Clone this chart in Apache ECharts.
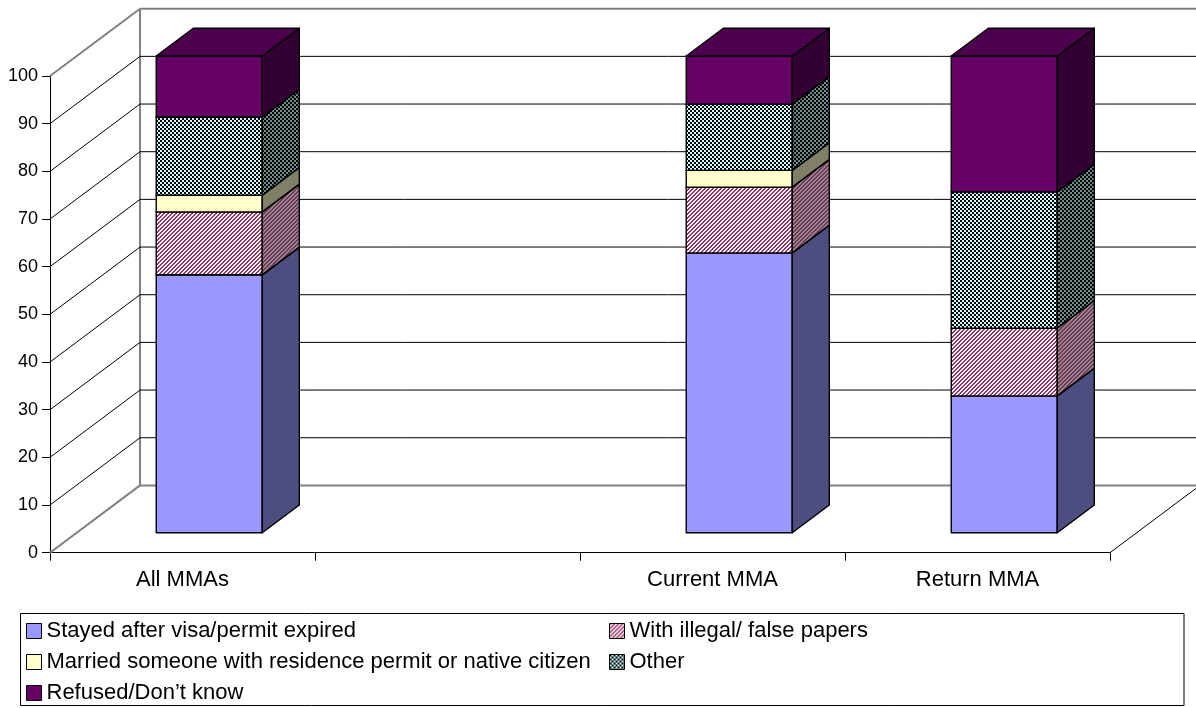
<!DOCTYPE html>
<html>
<head>
<meta charset="utf-8">
<script src="https://cdn.jsdelivr.net/npm/echarts@6/dist/echarts.min.js"></script>
<style>
  html, body { margin: 0; padding: 0; background: #fff; }
  #chart { width: 1196px; height: 708px; }
</style>
</head>
<body>
<div id="chart"></div>
<script>
// Reasons for irregular status, percent of respondents per group
const categories = ['All MMAs', '', 'Current MMA', 'Return MMA'];
const seriesNames = [
  'Stayed after visa/permit expired',
  'With illegal/ false papers',
  'Married someone with residence permit or native citizen',
  'Other',
  'Refused/Don\u2019t know'
];
const stayedAfterExpiry = [54.1, null, 58.7, 28.7];
const illegalPapers     = [13.2, null, 13.8, 14.2];
const marriedResident   = [3.5,  null, 3.5,  0];
const otherReason       = [16.4, null, 13.9, 28.6];
const refusedDontKnow   = [12.8, null, 10.1, 28.5];
const yTicks = [0, 10, 20, 30, 40, 50, 60, 70, 80, 90, 100];

// 3D projection: full floor depth and where the bars sit inside it
const DX = 90, DY = 67.3;
const FRONT_DEPTH = 0.297, BACK_DEPTH = 0.709;
const BAR_RATIO = 0.4;
const FONT = '"Liberation Sans", Arial, sans-serif';

function stripePattern(bg, fg) {
  const c = document.createElement('canvas');
  c.width = 4; c.height = 4;
  const g = c.getContext('2d');
  g.fillStyle = bg; g.fillRect(0, 0, 4, 4);
  g.fillStyle = fg;
  for (let x = 0; x < 4; x++) {
    for (let y = 0; y < 4; y++) {
      if ((x + y) % 4 < 2) g.fillRect(x, y, 1, 1);
    }
  }
  return { image: c, repeat: 'repeat' };
}
function checkerPattern(bg, fg) {
  const c = document.createElement('canvas');
  c.width = 4; c.height = 4;
  const g = c.getContext('2d');
  g.fillStyle = bg; g.fillRect(0, 0, 4, 4);
  g.fillStyle = fg;
  g.fillRect(0, 0, 2, 2); g.fillRect(2, 2, 2, 2);
  return { image: c, repeat: 'repeat' };
}

const faceStyles = [
  { front: '#9999FF', side: '#4D4D80', top: '#7373BF' },
  { front: stripePattern('#FFFFFF', '#993366'), side: stripePattern('#8E8A8D', '#7A3358'), top: stripePattern('#BFBFBF', '#732650') },
  { front: '#FFFFCC', side: '#808066', top: '#BFBF99' },
  { front: checkerPattern('#CCFFFF', '#000000'), side: checkerPattern('#6B8C8C', '#000000'), top: checkerPattern('#99BFBF', '#000000') },
  { front: '#660066', side: '#330033', top: '#4D004D' }
];

// cumulative stacking -> [categoryIndex, base, top]
const layers = [stayedAfterExpiry, illegalPapers, marriedResident, otherReason, refusedDontKnow];
const running = categories.map(() => 0);
const stackedData = layers.map(vals => {
  const out = [];
  vals.forEach((v, i) => {
    if (v == null) return;
    out.push([i, running[i], running[i] + v]);
    running[i] += v;
  });
  return out;
});

function makeSegmentRenderer(style) {
  return function (params, api) {
    const cat = api.value(0), lo = api.value(1), hi = api.value(2);
    if (!(hi > lo)) return null;
    const p0 = api.coord([cat, lo]);
    const p1 = api.coord([cat, hi]);
    const half = api.size([1, 0])[0] * BAR_RATIO / 2;
    const fx = FRONT_DEPTH * DX, fy = FRONT_DEPTH * DY;
    const bx = (BACK_DEPTH - FRONT_DEPTH) * DX, by = (BACK_DEPTH - FRONT_DEPTH) * DY;
    const x0 = p0[0] - half + fx, x1 = p0[0] + half + fx;
    const yb = p0[1] - fy, yt = p1[1] - fy;
    const edge = { stroke: '#000', lineWidth: 1.4, lineJoin: 'round' };
    return {
      type: 'group',
      children: [
        { type: 'rect', shape: { x: x0, y: yt, width: x1 - x0, height: yb - yt },
          style: Object.assign({ fill: style.front }, edge) },
        { type: 'polygon', shape: { points: [[x1, yb], [x1 + bx, yb - by], [x1 + bx, yt - by], [x1, yt]] },
          style: Object.assign({ fill: style.side }, edge) },
        { type: 'polygon', shape: { points: [[x0, yt], [x1, yt], [x1 + bx, yt - by], [x0 + bx, yt - by]] },
          style: Object.assign({ fill: style.top }, edge) }
      ]
    };
  };
}

// side wall, back wall and floor lines for each value tick
function renderWalls(params, api) {
  const v = api.value(0);
  const pL = api.coord([0, v]);
  const slot = api.size([1, 0])[0];
  const xLeft = pL[0] - slot / 2;
  const xRight = xLeft + slot * categories.length;
  const y = pL[1];
  const isEdge = (v === yTicks[0] || v === yTicks[yTicks.length - 1]);
  const lineStyle = isEdge ? { stroke: '#808080', lineWidth: 2 } : { stroke: '#000', lineWidth: 1 };
  const children = [
    { type: 'line', shape: { x1: xLeft, y1: y, x2: xLeft + DX, y2: y - DY }, style: lineStyle },
    { type: 'line', shape: { x1: xLeft + DX, y1: y - DY, x2: xRight + DX, y2: y - DY }, style: lineStyle }
  ];
  if (v === yTicks[0]) {
    const pTop = api.coord([0, yTicks[yTicks.length - 1]]);
    children.push({ type: 'line', shape: { x1: xLeft + DX, y1: pTop[1] - DY, x2: xLeft + DX, y2: y - DY },
      style: { stroke: '#808080', lineWidth: 2 } });
    children.push({ type: 'line', shape: { x1: xRight, y1: y, x2: xRight + DX, y2: y - DY },
      style: { stroke: '#000', lineWidth: 1 } });
  }
  return { type: 'group', children };
}

const series = [{
  type: 'custom',
  name: 'walls',
  z: 1,
  silent: true,
  renderItem: renderWalls,
  encode: { y: 0 },
  data: yTicks.map(v => [v])
}];
seriesNames.forEach((name, i) => {
  series.push({
    type: 'custom',
    name: name,
    z: 2 + i,
    itemStyle: { color: faceStyles[i].front },
    renderItem: makeSegmentRenderer(faceStyles[i]),
    encode: { x: 0, y: [1, 2] },
    data: stackedData[i]
  });
});

const legendText = { fontFamily: FONT, fontSize: 22, color: '#000' };
const legendCommon = {
  orient: 'vertical',
  padding: 0,
  itemGap: 9,
  itemWidth: 15,
  itemHeight: 15,
  icon: 'rect',
  itemStyle: { borderColor: '#000', borderWidth: 1 },
  textStyle: legendText,
  selectedMode: false
};

const chart = echarts.init(document.getElementById('chart'), null, { renderer: 'canvas' });
chart.setOption({
  animation: false,
  backgroundColor: '#fff',
  grid: { left: 50, right: 86, top: 76, bottom: 155.3 },
  xAxis: {
    type: 'category',
    data: categories,
    axisLine: { lineStyle: { color: '#000', width: 1 } },
    axisTick: { show: true, length: 8, lineStyle: { color: '#000' } },
    axisLabel: { fontFamily: FONT, fontSize: 22, color: '#000', margin: 16 },
    splitLine: { show: false }
  },
  yAxis: {
    type: 'value',
    min: 0, max: 100, interval: 10,
    axisLine: { show: true, lineStyle: { color: '#000', width: 1 } },
    axisTick: { show: true, length: 8, lineStyle: { color: '#000' } },
    axisLabel: { fontFamily: FONT, fontSize: 18, color: '#000', margin: 12 },
    splitLine: { show: false }
  },
  legend: [
    Object.assign({ left: 26, top: 620, data: [seriesNames[0], seriesNames[2], seriesNames[4]] }, legendCommon),
    Object.assign({ left: 609, top: 620, data: [seriesNames[1], seriesNames[3]] }, legendCommon)
  ],
  graphic: [{
    type: 'rect',
    z: 0,
    shape: { x: 20.5, y: 613.5, width: 1163.5, height: 92 },
    style: { fill: 'none', stroke: '#000', lineWidth: 1 }
  }],
  series: series
});
</script>
</body>
</html>
